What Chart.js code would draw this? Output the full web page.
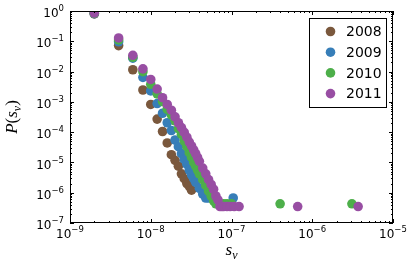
<!DOCTYPE html>
<html>
<head>
<meta charset="utf-8">
<script src="https://cdn.jsdelivr.net/npm/chart.js@4.4.0/dist/chart.umd.min.js"></script>
<style>
  html, body { margin: 0; padding: 0; background: #fff; }
  #wrap { width: 414px; height: 276px; }
</style>
</head>
<body>
<div id="wrap"><canvas id="svChart" width="414" height="276"></canvas></div>
<script>
const years = ['2008', '2009', '2010', '2011'];
const colors = ['#7a583d', '#377eb8', '#4daf4a', '#984ea3'];

const sv2008 = [2e-9, 4e-9, 6e-9, 8e-9, 1e-8, 1.2e-8, 1.4e-8, 1.6e-8, 1.8e-8, 2e-8, 2.2e-8, 2.4e-8, 2.6e-8, 2.8e-8, 3e-8, 3.2e-8];
const p2008 = [0.80, 0.072, 0.0115, 0.00246, 8.2e-4, 2.7e-4, 1.05e-4, 4.4e-5, 1.8e-5, 1.17e-5, 7.5e-6, 4.2e-6, 2.9e-6, 2.0e-6, 1.62e-6, 1.21e-6];

const sv2009 = [2e-9, 4e-9, 6e-9, 8e-9, 1e-8, 1.2e-8, 1.4e-8, 1.6e-8, 1.8e-8, 2e-8, 2.2e-8, 2.4e-8, 2.6e-8, 2.8e-8, 3e-8, 3.2e-8, 3.4e-8, 3.6e-8, 4e-8, 4.4e-8, 4.8e-8, 5.2e-8, 1.05e-7];
const p2009 = [0.82, 0.096, 0.0276, 0.0064, 0.00229, 8.8e-4, 4.2e-4, 2.04e-4, 1.13e-4, 5.5e-5, 3.3e-5, 1.95e-5, 1.26e-5, 8.7e-6, 5.6e-6, 3.9e-6, 2.9e-6, 2.2e-6, 1.4e-6, 9e-7, 6.7e-7, 6.7e-7, 6.7e-7];

const sv2010 = [2e-9, 4e-9, 6e-9, 8e-9, 1e-8, 1.2e-8, 1.4e-8, 1.6e-8, 1.8e-8, 2e-8, 2.2e-8, 2.4e-8, 2.6e-8, 2.8e-8, 3e-8, 3.2e-8, 3.4e-8, 3.6e-8, 3.8e-8, 4e-8, 4.4e-8, 4.8e-8, 5.2e-8, 5.6e-8, 6e-8, 6.4e-8, 6.8e-8, 7.2e-8, 8e-8, 8.8e-8, 1e-7, 4e-7, 3.1e-6];
const p2010 = [0.84, 0.111, 0.0297, 0.0099, 0.0038, 0.00184, 0.00102, 5.7e-4, 3.7e-4, 2.36e-4, 1.31e-4, 8.5e-5, 5.1e-5, 3.3e-5, 2.1e-5, 1.46e-5, 1.01e-5, 7.5e-6, 5.6e-6, 4.2e-6, 2.7e-6, 1.74e-6, 1.12e-6, 7.8e-7, 5.4e-7, 4.3e-7, 4.3e-7, 4.3e-7, 4.3e-7, 4.3e-7, 4.3e-7, 4.3e-7, 4.3e-7];

const sv2011 = [2e-9, 4e-9, 6e-9, 8e-9, 1e-8, 1.2e-8, 1.4e-8, 1.6e-8, 1.8e-8, 2e-8, 2.2e-8, 2.4e-8, 2.6e-8, 2.8e-8, 3e-8, 3.2e-8, 3.4e-8, 3.6e-8, 3.8e-8, 4e-8, 4.4e-8, 4.8e-8, 5.2e-8, 5.6e-8, 6e-8, 6.4e-8, 6.8e-8, 7.2e-8, 7.6e-8, 8e-8, 8.8e-8, 9.6e-8, 1.08e-7, 1.24e-7, 6.6e-7, 3.7e-6];
const p2011 = [0.86, 0.129, 0.0344, 0.0123, 0.0055, 0.00265, 0.00137, 8.2e-4, 5.3e-4, 3.2e-4, 2.04e-4, 1.41e-4, 9.8e-5, 6.8e-5, 4.7e-5, 3.5e-5, 2.6e-5, 1.95e-5, 1.46e-5, 1.09e-5, 6.5e-6, 4.2e-6, 2.7e-6, 1.87e-6, 1.3e-6, 7.8e-7, 5.8e-7, 3.5e-7, 3.5e-7, 3.5e-7, 3.5e-7, 3.5e-7, 3.5e-7, 3.5e-7, 3.5e-7, 3.5e-7];

const xTickValues = [1e-9, 1e-8, 1e-7, 1e-6, 1e-5];
const xTickExps = ['\u22129', '\u22128', '\u22127', '\u22126', '\u22125'];
const yTickValues = [1, 1e-1, 1e-2, 1e-3, 1e-4, 1e-5, 1e-6, 1e-7];
const yTickExps = ['0', '\u22121', '\u22122', '\u22123', '\u22124', '\u22125', '\u22126', '\u22127'];

const seriesX = [sv2008, sv2009, sv2010, sv2011];
const seriesY = [p2008, p2009, p2010, p2011];

const baseFont = '12px "DejaVu Sans"';
const expFont = '8.5px "DejaVu Sans"';

function drawPow(ctx, exp, x, y, mode) {
    ctx.font = baseFont;
    const wb = ctx.measureText('10').width;
    ctx.font = expFont;
    const we = ctx.measureText(exp).width;
    let start;
    let baseY, expY;
    if (mode === 'x') {
        start = x - (wb + we) / 2;
        baseY = y + 12;
        expY = y + 7;
    } else {
        start = x - (wb + we);
        baseY = y + 3;
        expY = y - 2;
    }
    ctx.textAlign = 'left';
    ctx.textBaseline = 'middle';
    ctx.font = baseFont;
    ctx.fillText('10', start, baseY);
    ctx.font = expFont;
    ctx.fillText(exp, start + wb, expY);
}

function drawMath(ctx, parts, cx, cy) {
    let total = 0;
    parts.forEach(p => { ctx.font = p.f; p.w = ctx.measureText(p.t).width; total += p.w; });
    let x = cx - total / 2;
    ctx.textAlign = 'left';
    ctx.textBaseline = 'alphabetic';
    parts.forEach(p => {
        ctx.font = p.f;
        ctx.fillText(p.t, x, cy + (p.dy || 0));
        x += p.w;
    });
}

const axisDecor = {
    id: 'axisDecor',
    afterDatasetsDraw(chart) {
        const { ctx, chartArea: a, scales: { x, y } } = chart;
        ctx.save();
        ctx.strokeStyle = '#000';
        ctx.fillStyle = '#000';
        ctx.lineWidth = 1;
        ctx.beginPath();
        const minor = [2, 3, 4, 5, 6, 7, 8, 9];
        xTickValues.forEach((v, i) => {
            const px = Math.round(x.getPixelForValue(v)) + 0.5;
            ctx.moveTo(px, a.bottom); ctx.lineTo(px, a.bottom - 4);
            ctx.moveTo(px, a.top); ctx.lineTo(px, a.top + 4);
            if (i < xTickValues.length - 1) {
                minor.forEach(m => {
                    const mx = Math.round(x.getPixelForValue(v * m)) + 0.5;
                    ctx.moveTo(mx, a.bottom); ctx.lineTo(mx, a.bottom - 2);
                    ctx.moveTo(mx, a.top); ctx.lineTo(mx, a.top + 2);
                });
            }
        });
        yTickValues.forEach((v, i) => {
            const py = Math.round(y.getPixelForValue(v)) + 0.5;
            ctx.moveTo(a.left, py); ctx.lineTo(a.left + 4, py);
            ctx.moveTo(a.right, py); ctx.lineTo(a.right - 4, py);
            if (i < yTickValues.length - 1) {
                minor.forEach(m => {
                    const my = Math.round(y.getPixelForValue(v / 10 * m)) + 0.5;
                    ctx.moveTo(a.left, my); ctx.lineTo(a.left + 2, my);
                    ctx.moveTo(a.right, my); ctx.lineTo(a.right - 2, my);
                });
            }
        });
        ctx.stroke();
        ctx.strokeRect(a.left + 0.5, a.top + 0.5, a.width - 1, a.height - 1);

        xTickValues.forEach((v, i) => drawPow(ctx, xTickExps[i], x.getPixelForValue(v), a.bottom, 'x'));
        yTickValues.forEach((v, i) => drawPow(ctx, yTickExps[i], a.left - 6, y.getPixelForValue(v), 'y'));

        const serifI = 'italic 17px "Liberation Serif"';
        const serif = '17px "Liberation Serif"';
        const sub = 'italic 12px "Liberation Serif"';
        drawMath(ctx, [
            { t: 's', f: serifI },
            { t: 'v', f: sub, dy: 4 }
        ], (a.left + a.right) / 2, a.bottom + 32);

        ctx.translate(17, (a.top + a.bottom) / 2);
        ctx.rotate(-Math.PI / 2);
        drawMath(ctx, [
            { t: 'P', f: serifI },
            { t: '(', f: serif },
            { t: 's', f: serifI },
            { t: 'v', f: sub, dy: 4 },
            { t: ')', f: serif }
        ], 0, 0);
        ctx.restore();
    },
    afterDraw(chart) {
        const { ctx, chartArea: a } = chart;
        const w = 77, h = 89;
        const left = a.right - 7 - w;
        const top = a.top + 7;
        ctx.save();
        ctx.fillStyle = '#fff';
        ctx.fillRect(left, top, w, h);
        ctx.strokeStyle = '#000';
        ctx.lineWidth = 1;
        ctx.strokeRect(left + 0.5, top + 0.5, w, h);
        ctx.font = '14px "DejaVu Sans"';
        ctx.textAlign = 'left';
        ctx.textBaseline = 'middle';
        years.forEach((yr, i) => {
            const cy = top + 13.5 + i * 20.7;
            ctx.fillStyle = colors[i];
            ctx.beginPath();
            ctx.arc(left + 21.5, cy, 4.8, 0, Math.PI * 2);
            ctx.fill();
            ctx.fillStyle = '#000';
            ctx.fillText(yr, left + 37, cy + 1);
        });
        ctx.restore();
    }
};

const ctx = document.getElementById('svChart').getContext('2d');

const datasets = years.map((yr, i) => ({
    label: yr,
    data: seriesX[i].map((v, j) => ({ x: v, y: seriesY[i][j] })),
    backgroundColor: colors[i],
    borderColor: colors[i],
    pointRadius: 4.8,
    pointBorderWidth: 0,
    pointHoverRadius: 4.8,
    order: years.length - i
}));

new Chart(ctx, {
    type: 'scatter',
    data: { datasets: datasets },
    options: {
        responsive: false,
        animation: false,
        devicePixelRatio: 1,
        layout: { padding: { left: 62, right: 21, top: 11, bottom: 45 } },
        plugins: {
            legend: { display: false },
            tooltip: { enabled: false }
        },
        scales: {
            x: {
                type: 'logarithmic',
                min: 1e-9,
                max: 1e-5,
                grid: { display: false },
                border: { display: false },
                ticks: { display: false }
            },
            y: {
                type: 'logarithmic',
                min: 1e-7,
                max: 1,
                grid: { display: false },
                border: { display: false },
                ticks: { display: false }
            }
        }
    },
    plugins: [axisDecor]
});
</script>
</body>
</html>
